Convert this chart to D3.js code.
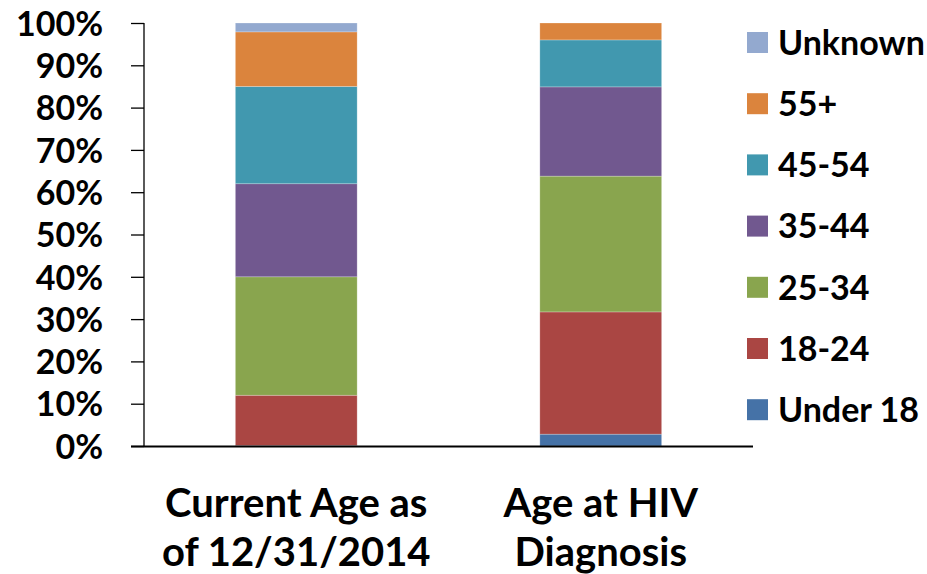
<!DOCTYPE html>
<html>
<head>
<meta charset="utf-8">
<script src="https://cdn.jsdelivr.net/npm/d3@7"></script>
<style>
  body { margin: 0; background: #fff; }
  text { font-family: Lato, "Open Sans", sans-serif; font-weight: bold; fill: #000; }
</style>
</head>
<body>
<div id="chart"></div>
<script>
// categories on the x axis (each one split over two lines)
var categories = [["Current Age as", "of 12/31/2014"], ["Age at HIV", "Diagnosis"]];

// age groups, bottom to top of the stack
var groups = ["Under 18", "18-24", "25-34", "35-44", "45-54", "55+", "Unknown"];
var colors = ["#4572A7", "#AA4643", "#89A54E", "#71588F", "#4198AF", "#DB843D", "#93A9CF"];

// percent values per group, one per category
var currentAge   = [0.1, 11.9, 28.0, 22.0, 23.0, 12.9, 2.1];
var ageDiagnosis = [2.8, 28.9, 32.1, 21.1, 11.1, 4.0, 0.0];

var yTicks = [0, 10, 20, 30, 40, 50, 60, 70, 80, 90, 100];

var width = 927, height = 574;
var margin = {top: 23, right: 174, bottom: 128, left: 144};
var w = width - margin.left - margin.right,
    h = height - margin.top - margin.bottom;

var svg = d3.select("#chart").append("svg")
  .attr("width", width)
  .attr("height", height);

var g = svg.append("g")
  .attr("transform", "translate(" + margin.left + "," + margin.top + ")");

var x = d3.scaleBand()
  .domain([0, 1])
  .range([0, w])
  .paddingInner(0.6)
  .paddingOuter(0.3);

var y = d3.scaleLinear()
  .domain([0, 100])
  .range([h, 0]);

// build rows for the stack
var rows = [currentAge, ageDiagnosis].map(function(vals, i) {
  var r = {idx: i};
  groups.forEach(function(k, j) { r[k] = vals[j]; });
  return r;
});
var series = d3.stack().keys(groups)(rows);

g.selectAll(".layer")
  .data(series)
  .enter().append("g")
  .attr("class", "layer")
  .attr("fill", function(d, i) { return colors[i]; })
  .selectAll("rect")
  .data(function(d) { return d; })
  .enter().append("rect")
  .attr("x", function(d) { return x(d.data.idx); })
  .attr("width", x.bandwidth())
  .attr("y", function(d) { return y(d[1]); })
  .attr("height", function(d) { return y(d[0]) - y(d[1]); })
  .attr("stroke", "rgba(255,255,255,0.35)")
  .attr("stroke-width", 0.7);

// y axis
var yAxis = g.append("g")
  .call(d3.axisLeft(y).tickValues(yTicks).tickSize(13).tickPadding(28)
    .tickFormat(function(d) { return d + "%"; }));
yAxis.selectAll("line").attr("stroke", "#000").attr("stroke-width", 1.3);
yAxis.select(".domain").attr("stroke", "#000").attr("stroke-width", 1.3)
  .attr("d", "M0," + y(100) + "V" + h);
yAxis.selectAll("text").style("font-size", "34px").attr("dy", "0.36em");

// x axis line
g.append("line")
  .attr("x1", -13).attr("x2", w)
  .attr("y1", h + 0.5).attr("y2", h + 0.5)
  .attr("stroke", "#000")
  .attr("stroke-width", 2);

// x labels
categories.forEach(function(lines, i) {
  var t = g.append("text")
    .attr("x", x(i) + x.bandwidth() / 2)
    .attr("y", h + 71)
    .attr("text-anchor", "middle")
    .style("font-size", "40px");
  lines.forEach(function(s, j) {
    t.append("tspan")
      .attr("x", x(i) + x.bandwidth() / 2)
      .attr("dy", j === 0 ? 0 : 49)
      .text(s);
  });
});

// legend, top entry is the last group
var legend = svg.append("g").attr("transform", "translate(747,32)");
var order = groups.slice().reverse();
var leg = legend.selectAll(".leg")
  .data(order)
  .enter().append("g")
  .attr("class", "leg")
  .attr("transform", function(d, i) { return "translate(0," + (i * 61.2) + ")"; });
leg.append("rect")
  .attr("width", 21).attr("height", 21)
  .attr("fill", function(d) { return colors[groups.indexOf(d)]; });
leg.append("text")
  .attr("x", 31)
  .attr("y", 10.5)
  .attr("dy", "0.36em")
  .style("font-size", "34px")
  .text(function(d) { return d; });
</script>
</body>
</html>
